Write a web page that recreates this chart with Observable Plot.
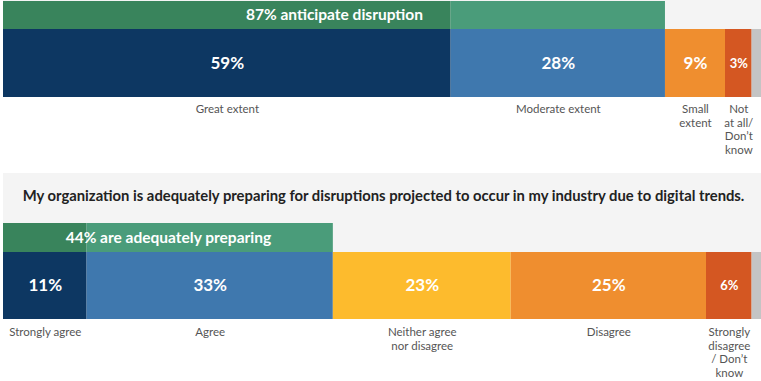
<!DOCTYPE html>
<html><head><meta charset="utf-8">
<script src="https://cdn.jsdelivr.net/npm/d3@7"></script>
<script src="https://cdn.jsdelivr.net/npm/@observablehq/plot@0.6"></script>
<style>
html,body{margin:0;padding:0;background:#fff;overflow:hidden;}
#chart svg{display:block;}
</style>
</head><body><div id="chart"></div>
<script>
// ---------- Data ----------
const topCategories = ["Great extent", "Moderate extent", "Small\nextent", "Not\nat all/\nDon’t\nknow", ""];
const topShares = [58.9, 28.2, 7.9, 3.5, 1.6];
const topLabels = ["59%", "28%", "9%", "3%", ""];
const topBandText = "87% anticipate disruption";
const topBandCount = 2; // first two categories form the green band

const bottomTitle = "My organization is adequately preparing for disruptions projected to occur in my industry due to digital trends.";
const bottomCategories = ["Strongly agree", "Agree", "Neither agree\nnor disagree", "Disagree", "Strongly\ndisagree\n/ Don’t\nknow", ""];
const bottomShares = [11.0, 32.4, 23.4, 25.7, 6.0, 1.5];
const bottomLabels = ["11%", "33%", "23%", "25%", "6%", ""];
const bottomBandText = "44% are adequately preparing";
const bottomBandCount = 2;

// ---------- Styles ----------
const topColors = ["#0d3762", "#3f78ae", "#ef8e2f", "#d45722", "#c4c4c4"];
const bottomColors = ["#0d3762", "#3f78ae", "#fdbb2d", "#ef8e2f", "#d45722", "#c4c4c4"];
const bandColors = ["#39845c", "#4a9c7a"];
const bgGray = "#f4f4f4";
const font = "Lato, 'Open Sans', sans-serif";

// ---------- Layout (px) ----------
const L = {
  top: {bg: [0, 97], band: [1, 29], bar: [29, 97], label: 103},
  bottom: {bg: [173, 252], title: 196, band: [223, 252], bar: [252, 319], label: 326}
};

function build(panel, cats, shares, labels, colors, bandCount, bandText) {
  const lay = L[panel];
  let acc = 0;
  const segs = cats.map((c, i) => {
    const s = {panel, cat: c, x1: acc, x2: acc + shares[i], label: labels[i], fill: colors[i],
      y1: lay.bar[0], y2: lay.bar[1], ym: (lay.bar[0] + lay.bar[1]) / 2, ly: lay.label,
      small: shares[i] < 7};
    acc += shares[i];
    return s;
  });
  const band = segs.slice(0, bandCount).map((s, i) => ({x1: s.x1, x2: s.x2, fill: bandColors[i], y1: lay.band[0], y2: lay.band[1]}));
  const bandInfo = {x: (band[0].x1 + band[band.length - 1].x2) / 2, y: (lay.band[0] + lay.band[1]) / 2, text: bandText};
  return {segs, band, bandInfo};
}

const T = build("top", topCategories, topShares, topLabels, topColors, topBandCount, topBandText);
const B = build("bottom", bottomCategories, bottomShares, bottomLabels, bottomColors, bottomBandCount, bottomBandText);
const segs = [...T.segs, ...B.segs];
const bands = [...T.band, ...B.band];
const bandInfos = [T.bandInfo, B.bandInfo];
const bgs = [
  {x1: 0, y1: L.top.bg[0], y2: L.top.bg[1]},
  {x1: 0, y1: L.bottom.bg[0], y2: L.bottom.bg[1]}
];

const chart = Plot.plot({
  width: 761,
  height: 381,
  margin: 0,
  style: {fontFamily: font, background: "#fff", overflow: "hidden"},
  x: {domain: [0, 100], range: [3, 763], axis: null},
  y: {domain: [0, 381], range: [0, 381], axis: null},
  color: {type: "identity"},
  marks: [
    Plot.rect(bgs, {x1: "x1", x2: () => 101, y1: "y1", y2: "y2", fill: bgGray}),
    Plot.rect(bands, {x1: "x1", x2: "x2", y1: "y1", y2: "y2", fill: "fill"}),
    Plot.rect(segs, {x1: "x1", x2: "x2", y1: "y1", y2: "y2", fill: "fill"}),
    Plot.text(bandInfos, {x: "x", y: "y", text: "text", fill: "#fff", fontSize: 15.5, fontWeight: 700}),
    Plot.text(segs.filter(d => !d.small), {x: d => (d.x1 + d.x2) / 2, y: "ym", text: "label", fill: "#fff", fontSize: 17, fontWeight: 700}),
    Plot.text(segs.filter(d => d.small), {x: d => (d.x1 + d.x2) / 2, y: "ym", text: "label", fill: "#fff", fontSize: 13, fontWeight: 700}),
    Plot.text(segs, {x: d => (d.x1 + d.x2) / 2, y: "ly", text: "cat", fill: "#555", fontSize: 11.5, lineAnchor: "top", lineHeight: 1.18}),
    Plot.text([bottomTitle], {x: 50, y: L.bottom.title, text: d => d, fill: "#222", fontSize: 14.8, fontWeight: 700})
  ]
});
document.getElementById("chart").append(chart);
</script>
</body></html>
